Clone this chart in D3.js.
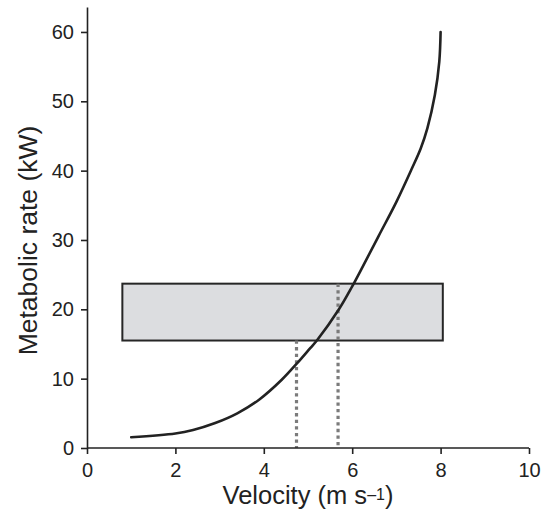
<!DOCTYPE html>
<html>
<head>
<meta charset="utf-8">
<script src="https://cdn.jsdelivr.net/npm/d3@7"></script>
<style>
  body { margin: 0; background: #fff; }
  svg { display: block; font-family: "Liberation Sans", Arial, Helvetica, sans-serif; }
  .axis path, .axis line { stroke: #222; stroke-width: 1.6px; }
  .axis text { fill: #222; font-size: 20px; }
</style>
</head>
<body>
<div id="chart"></div>
<script>
// curve: velocity (m/s) vs metabolic rate (kW)
var velocity      = [1.0, 2.0, 2.4, 2.9, 3.4, 3.9, 4.4, 4.75, 5.05, 5.2, 5.7, 6.0, 6.25, 6.6, 7.0, 7.35, 7.55, 7.7, 7.87, 7.97, 8.0];
var metabolicRate = [1.55, 2.1, 2.6, 3.6, 5.0, 7.0, 9.8, 12.2, 14.4, 15.5, 20.0, 23.3, 26.3, 30.6, 35.5, 40.3, 43.2, 46.1, 50.9, 55.7, 60.0];

// shaded band and the two dotted drop lines
var bandVelocity = [0.8, 8.05];
var bandRate     = [15.5, 23.7];
var dropVelocity = [4.74, 5.68];
var dropRate     = [15.5, 23.7];

var xTicks = [0, 2, 4, 6, 8, 10];
var yTicks = [0, 10, 20, 30, 40, 50, 60];

var width = 547, height = 510;
var margin = {top: 7, right: 18, bottom: 62, left: 87};

var svg = d3.select("#chart").append("svg")
  .attr("width", width)
  .attr("height", height);

var x = d3.scaleLinear().domain([0, 10]).range([margin.left, width - margin.right]);
var y = d3.scaleLinear().domain([0, 63.6]).range([height - margin.bottom, margin.top]);

// band
svg.append("rect")
  .attr("x", x(bandVelocity[0]))
  .attr("y", y(bandRate[1]))
  .attr("width", x(bandVelocity[1]) - x(bandVelocity[0]))
  .attr("height", y(bandRate[0]) - y(bandRate[1]))
  .attr("fill", "#dcdde0")
  .attr("stroke", "#262626")
  .attr("stroke-width", 2);

// dotted drop lines
svg.selectAll(".drop")
  .data(dropVelocity)
  .enter().append("line")
  .attr("class", "drop")
  .attr("x1", function(d) { return x(d); })
  .attr("x2", function(d) { return x(d); })
  .attr("y1", function(d, i) { return y(dropRate[i]); })
  .attr("y2", y(0))
  .attr("stroke", "#7b7b7b")
  .attr("stroke-width", 3.2)
  .attr("stroke-dasharray", "3.3,3.3");

// curve
var pts = velocity.map(function(v, i) { return [v, metabolicRate[i]]; });
var line = d3.line()
  .x(function(d) { return x(d[0]); })
  .y(function(d) { return y(d[1]); })
  .curve(d3.curveCatmullRom.alpha(0.5));

svg.append("path")
  .datum(pts)
  .attr("d", line)
  .attr("fill", "none")
  .attr("stroke", "#222")
  .attr("stroke-width", 2.6)
  .attr("stroke-linecap", "round");

// axes
svg.append("g")
  .attr("class", "axis")
  .attr("transform", "translate(0," + y(0) + ")")
  .call(d3.axisBottom(x).tickValues(xTicks).tickSize(6).tickSizeOuter(0).tickPadding(9))
  .select(".domain").attr("d", "M" + x(0) + ",0H" + x(10));

svg.append("g")
  .attr("class", "axis")
  .attr("transform", "translate(" + x(0) + ",0)")
  .call(d3.axisLeft(y).tickValues(yTicks).tickSize(6).tickSizeOuter(0).tickPadding(7));

svg.selectAll(".axis .domain").attr("fill", "none");

// axis titles
var xt = svg.append("text")
  .attr("x", (x(0) + x(10)) / 2)
  .attr("y", 504)
  .attr("text-anchor", "middle")
  .attr("fill", "#222")
  .style("font-size", "25.5px");
xt.append("tspan").text("Velocity (m s");
xt.append("tspan").attr("dy", -4).style("font-size", "16px").text("\u20131");
xt.append("tspan").attr("dy", 4).text(")");

svg.append("text")
  .attr("transform", "translate(37,240.5) rotate(-90)")
  .attr("text-anchor", "middle")
  .attr("fill", "#222")
  .style("font-size", "26.5px")
  .text("Metabolic rate (kW)");
</script>
</body>
</html>
